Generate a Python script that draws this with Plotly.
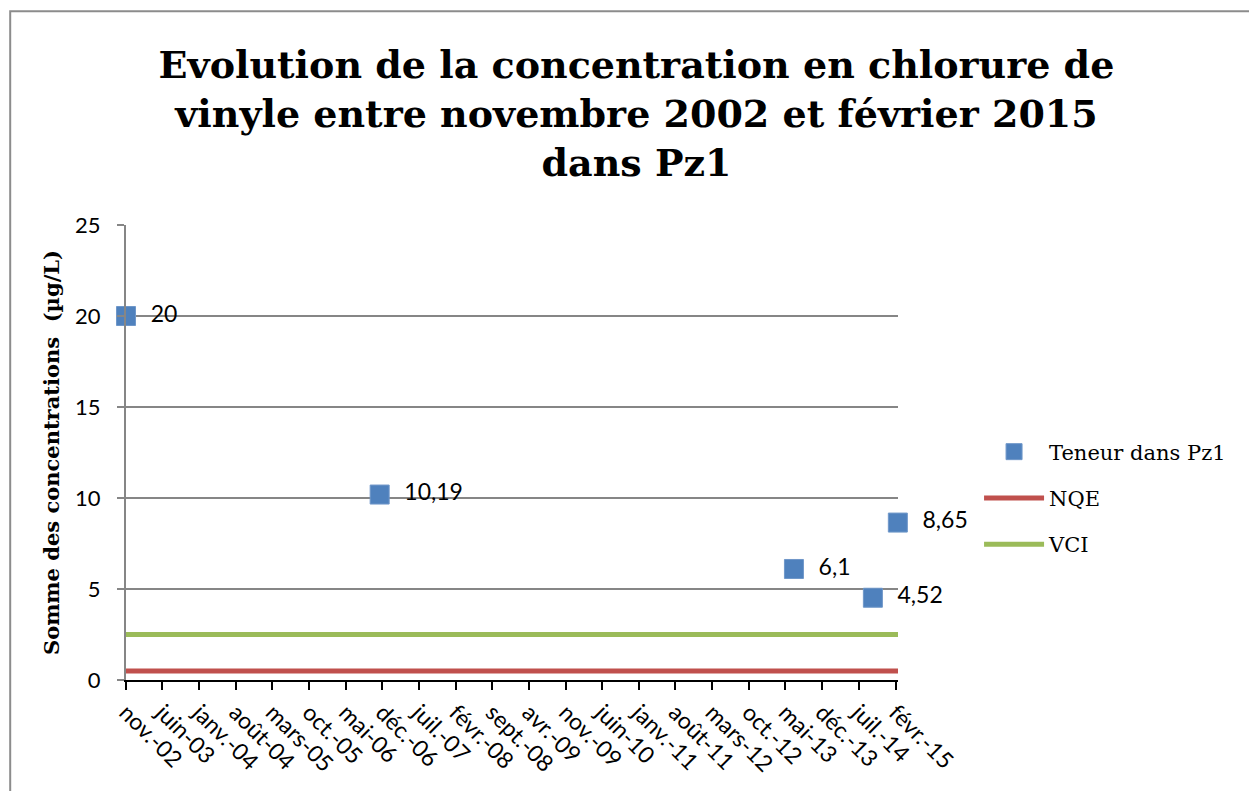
import plotly.graph_objects as go

# sample dates and values
dates = ["2002-11-01", "2006-11-15", "2013-06-20", "2014-09-22", "2015-02-14"]
teneur = [20, 10.19, 6.1, 4.52, 8.65]

# reference thresholds (µg/L)
line_dates = ["2002-11-01", "2015-02-15"]
nqe = [0.5, 0.5]
vci = [2.5, 2.5]

tick_dates = ["2002-11-01", "2003-06-01", "2004-01-01", "2004-08-01", "2005-03-01",
              "2005-10-01", "2006-05-01", "2006-12-01", "2007-07-01", "2008-02-01",
              "2008-09-01", "2009-04-01", "2009-11-01", "2010-06-01", "2011-01-01",
              "2011-08-01", "2012-03-01", "2012-10-01", "2013-05-01", "2013-12-01",
              "2014-07-01", "2015-02-01"]
tick_labels = ["nov.-02", "juin-03", "janv.-04", "août-04", "mars-05", "oct.-05",
               "mai-06", "déc.-06", "juil.-07", "févr.-08", "sept.-08", "avr.-09",
               "nov.-09", "juin-10", "janv.-11", "août-11", "mars-12", "oct.-12",
               "mai-13", "déc.-13", "juil.-14", "févr.-15"]

serif = "DejaVu Serif"
sans = "Lato"

fig = go.Figure()

fig.add_trace(go.Scatter(
    x=dates, y=teneur, mode="markers+text", name="Teneur dans Pz1",
    marker=dict(symbol="square", size=19, color="#4F81BD",
                line=dict(color="#6f97c9", width=1)),
    text=["  " + f"{v:g}".replace(".", ",") for v in teneur],
    textposition="middle right", textfont=dict(family=sans, size=23, color="black"),
    cliponaxis=False, legendgroup="a",
))
fig.add_trace(go.Scatter(
    x=line_dates, y=nqe, mode="lines", name="NQE",
    line=dict(color="#C0504D", width=5), cliponaxis=False, legendgroup="b",
))
fig.add_trace(go.Scatter(
    x=line_dates, y=vci, mode="lines", name="VCI",
    line=dict(color="#9BBB59", width=5), cliponaxis=False, legendgroup="c",
))

# outer chart frame, like the Excel chart area border
fig.add_shape(type="rect", xref="paper", yref="paper",
              x0=-0.150, y0=-0.35, x1=1.6, y1=1.470,
              line=dict(color="#8c8c8c", width=2), fillcolor="rgba(0,0,0,0)")

fig.update_layout(
    width=1257, height=791,
    margin=dict(l=118, r=367, t=217, b=119),
    paper_bgcolor="white", plot_bgcolor="white",
    title=dict(
        text="Evolution de la concentration en chlorure de<br>"
             "vinyle entre novembre 2002 et février 2015<br>dans Pz1",
        x=0.5, xanchor="center", y=0.912, yanchor="top",
        font=dict(family=serif, size=38, color="black", weight="bold"),
    ),
    legend=dict(
        x=1.105, xanchor="left", y=0.40, yanchor="middle",
        font=dict(family=serif, size=21, color="black"),
        traceorder="grouped", tracegroupgap=16, itemwidth=60,
        bgcolor="rgba(0,0,0,0)",
    ),
    showlegend=True,
)

fig.update_xaxes(
    type="date", range=["2002-11-01", "2015-02-15"],
    tickvals=tick_dates, ticktext=tick_labels, tickangle=45,
    tickfont=dict(family=sans, size=23, color="black"),
    showline=True, linecolor="black", linewidth=2,
    ticks="outside", ticklen=8, tickcolor="black", tickwidth=2,
    showgrid=False, zeroline=False, ticklabelstandoff=0, automargin=False,
)
fig.update_yaxes(
    range=[0, 25], dtick=5,
    tickfont=dict(family=sans, size=22, color="black"),
    showline=True, linecolor="#868686", linewidth=2,
    ticks="outside", ticklen=7, tickcolor="#868686", tickwidth=2,
    showgrid=True, gridcolor="#868686", gridwidth=1.5, zeroline=False,
    ticklabelstandoff=12, automargin=False,
    title=dict(text="Somme des concentrations  (µg/L)", standoff=10,
               font=dict(family=serif, size=21, color="black", weight="bold")),
)

fig.write_html("out.html")
